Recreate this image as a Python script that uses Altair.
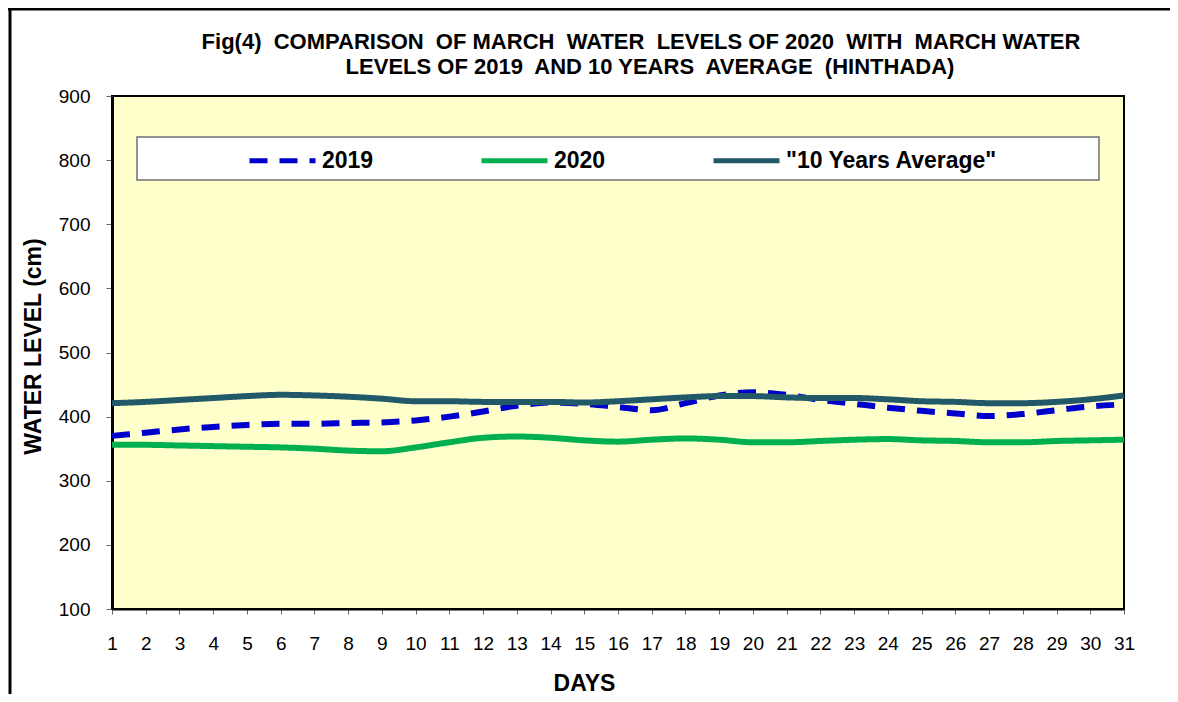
import altair as alt
import pandas as pd

days = list(range(1, 32))
y2019 = [370, 375, 380, 384, 387, 389, 389, 390, 391, 394, 400, 408, 417, 422, 420, 415,
         410, 421, 433, 438, 434, 426, 420, 414, 409, 405, 401, 404, 410, 416, 419]
y2020 = [356, 356, 355, 354, 353, 352, 350, 347, 346, 352, 360, 367, 369, 367, 363, 361,
         364, 366, 364, 360, 360, 362, 364, 365, 363, 362, 360, 360, 362, 363, 364]
yavg = [421, 423, 426, 429, 432, 434, 433, 431, 428, 424, 424, 423, 423, 423, 422, 424,
        427, 430, 432, 432, 430, 429, 429, 427, 424, 423, 421, 421, 423, 427, 433]
series_names = ["2019", "2020", "\"10 Years Average\""]
series_colors = ["#0000CC", "#00B050", "#215968"]
series_dash = [[18, 12], [1, 0], [1, 0]]
y_ticks = [100, 200, 300, 400, 500, 600, 700, 800, 900]

rows = []
for name, vals in zip(series_names, [y2019, y2020, yavg]):
    for d, v in zip(days, vals):
        rows.append({"day": d, "level": v, "series": name})
df = pd.DataFrame(rows)

FONT = "Liberation Sans"

lines = alt.Chart(df).mark_line(strokeWidth=6, interpolate="monotone", strokeCap="butt").encode(
    x=alt.X("day:Q", scale=alt.Scale(domain=[1, 31], nice=False, zero=False),
            axis=alt.Axis(values=days, title="DAYS", format="d", tickSize=5,
                          labelPadding=20, labelFlush=False, labelOverlap=False,
                          titleX=472, titleY=74, titleBaseline="middle",
                          titleAnchor="start", titleAlign="center")),
    y=alt.Y("level:Q", scale=alt.Scale(domain=[100, 900], nice=False, zero=False),
            axis=alt.Axis(values=y_ticks, title="WATER LEVEL (cm)", tickSize=6,
                          labelPadding=16, labelFlush=False, domainWidth=3,
                          titleX=-79, titleY=250,
                          titleAngle=270, titleBaseline="middle", titleAlign="center")),
    color=alt.Color("series:N", sort=series_names,
                    scale=alt.Scale(domain=series_names, range=series_colors),
                    legend=alt.Legend(orient="none", legendX=135, legendY=29,
                                      direction="horizontal", title=None,
                                      symbolType="stroke", symbolSize=4356,
                                      symbolStrokeWidth=5, labelOffset=4,
                                      columnPadding=97, labelFont=FONT,
                                      labelFontSize=23, labelFontWeight="bold",
                                      labelColor="black", labelLimit=400)),
    strokeDash=alt.StrokeDash("series:N", sort=series_names,
                              scale=alt.Scale(domain=series_names, range=series_dash),
                              legend=None),
    order=alt.Order("series:N"),
)

one = pd.DataFrame({"k": [0]})
legend_box = alt.Chart(one).mark_rect(fill="white", stroke="#707070", strokeWidth=1.5).encode(
    x=alt.value(25), x2=alt.value(987), y=alt.value(41), y2=alt.value(84)
)
frame_left = alt.Chart(one).mark_rule(color="black", strokeWidth=3).encode(
    x=alt.value(-102), y=alt.value(-87), y2=alt.value(620)
)
frame_top = alt.Chart(one).mark_rule(color="black", strokeWidth=3).encode(
    x=alt.value(-104), x2=alt.value(1080), y=alt.value(-87)
)

title_line1 = "Fig(4)\u00a0 COMPARISON\u00a0 OF MARCH\u00a0 WATER\u00a0 LEVELS OF 2020\u00a0 WITH\u00a0 MARCH WATER"
title_line2 = "LEVELS OF 2019\u00a0 AND 10 YEARS\u00a0 AVERAGE\u00a0 (HINTHADA)"

t1 = alt.Chart(one).mark_text(text=title_line1, font=FONT, fontSize=22, fontWeight="bold",
                              color="black", align="center", baseline="alphabetic").encode(
    x=alt.value(529), y=alt.value(-47)
)
t2 = alt.Chart(one).mark_text(text=title_line2, font=FONT, fontSize=22, fontWeight="bold",
                              color="black", align="center", baseline="alphabetic").encode(
    x=alt.value(538), y=alt.value(-22)
)

chart = alt.layer(frame_left, frame_top, legend_box, lines, t1, t2).properties(
    width=1012, height=513,
    autosize=alt.AutoSizeParams(type="none"),
    padding={"left": 104, "top": 88, "right": 46, "bottom": 85},
).configure_view(
    fill="#FFFFCC", stroke="black", strokeWidth=2
).configure_axis(
    grid=False, labelFont=FONT, labelFontSize=19, labelColor="black",
    titleFont=FONT, titleFontSize=23, titleFontWeight="bold", titleColor="black",
    domainColor="black", tickColor="#666666", domainWidth=2
)

chart.save("out.html", embed_options={"renderer": "svg", "actions": False})
